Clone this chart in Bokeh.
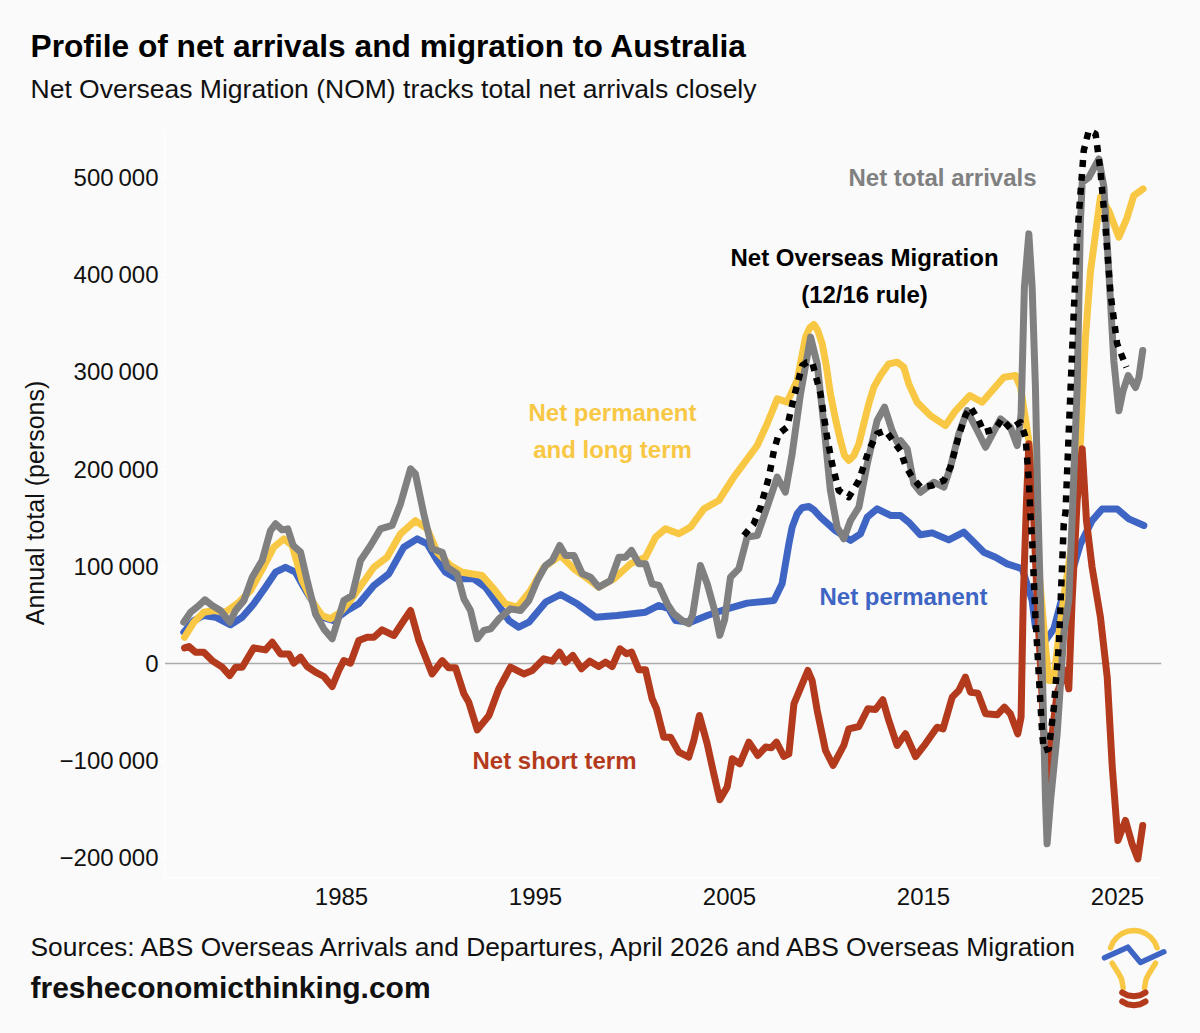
import math
from bokeh.plotting import figure
from bokeh.models import FixedTicker, Range1d
from bokeh.core.properties import value
from bokeh.embed import file_html
from bokeh.resources import INLINE

# --- data, thousands of persons ---
total_years = [1976.87,1977.22,1977.65,1977.96,1978.33,1978.76,1979.24,1979.54,1979.97,1980.40,1980.91,1981.34,1981.6,1981.94,1982.23,1982.51,1982.89,1983.23,1983.66,1984.09,1984.52,1984.86,1985.12,1985.55,1985.98,1986.5,1987.01,1987.61,1988.04,1988.56,1988.81,1989.24,1989.67,1990.19,1990.45,1990.96,1991.31,1991.65,1992.0,1992.34,1992.68,1993.11,1993.71,1994.23,1994.66,1995.09,1995.52,1995.86,1996.25,1996.55,1996.98,1997.41,1997.84,1998.26,1998.87,1999.3,1999.64,1999.95,2000.33,2000.67,2001.01,2001.36,2001.79,2002.13,2002.56,2002.9,2003.1,2003.5,2003.85,2004.28,2004.5,2004.75,2005.05,2005.48,2005.91,2006.43,2006.94,2007.46,2007.88,2008.23,2008.66,2009.18,2009.52,2009.86,2010.2,2010.55,2010.89,2011.24,2011.67,2012.1,2012.61,2012.99,2013.38,2013.64,2013.81,2014.16,2014.5,2014.85,2015.53,2016.05,2016.39,2016.82,2017.25,2017.77,2018.2,2018.97,2019.48,2019.83,2020.03,2020.2,2020.43,2020.6,2020.77,2020.89,2021.12,2021.29,2021.37,2021.55,2021.89,2022.23,2022.49,2022.66,2022.92,2023.09,2023.18,2023.52,2024.04,2024.3,2024.55,2024.81,2025.07,2025.29,2025.55,2025.93,2026.1,2026.3]
total_vals = [42.5,52.8,59.6,65.5,59.6,54.5,42.5,54.5,64.8,88.8,106,136.8,143.7,137.5,138.5,121.4,114.5,85.4,51,35.6,25.4,47.6,64.8,70,106,121.4,138.5,142,164.2,200.3,195,154,118,114.5,99,92.2,66.5,54.5,25.4,34,35.6,45.9,56.2,54.5,64.8,85.4,100.8,106,121.4,111.1,111.1,92.3,88.8,78.6,85.4,109.4,109.4,116.3,102.6,102.6,82,80.3,61.4,51.1,44.2,41,50,100.8,82,51,29,45,88.8,97.4,130,131.7,160.9,191.7,176.3,215.7,277.5,335.8,308.3,246.6,178,140.3,128.3,147.1,160.9,205.4,250,263.7,239.7,227.7,229.4,220.8,184.8,176.2,186.5,181.4,202,236.2,260.2,239.7,222.5,251.7,243.1,224.2,256.8,387,442,387,284,167.7,-3.8,-141,-185.5,-141,-72.4,30.5,64.8,147,284,455.7,495,500,519,490,404,311.7,260,280.8,296.3,284,294,322]

longterm_years = [1976.91,1977.39,1977.9,1978.42,1979.02,1979.71,1980.31,1980.97,1981.51,1982.03,1982.46,1982.97,1983.57,1984.0,1984.43,1984.95,1985.46,1986.07,1986.67,1987.35,1988.04,1988.81,1989.42,1989.93,1990.62,1991.22,1992.25,1992.85,1993.45,1994.06,1994.74,1995.43,1996.29,1996.98,1997.58,1998.26,1999.04,1999.9,2000.67,2001.19,2001.7,2002.39,2002.99,2003.68,2004.45,2005.22,2006.43,2006.94,2007.46,2007.97,2008.49,2008.92,2009.14,2009.35,2009.55,2009.78,2010.0,2010.2,2010.46,2010.72,2010.93,2011.15,2011.41,2011.67,2011.92,2012.18,2012.44,2012.78,2013.21,2013.64,2013.98,2014.24,2014.67,2015.36,2016.13,2016.65,2017.39,2018.02,2019.14,2019.74,2020.0,2020.43,2020.8,2021.29,2021.46,2021.72,2021.98,2022.23,2022.7,2023.09,2023.35,2023.61,2024.12,2024.55,2025.07,2025.5,2025.84,2026.32]
longterm_vals = [27,42.5,52.8,54.5,52.8,63,75,99,119.7,128.2,121.4,85.4,61.4,49.4,46,52.8,64.8,82,99,109.4,133.4,147,138.5,114.5,100.8,93.9,90.5,76.8,61.4,57.9,75,99,111.1,97.4,88.8,78.6,87,102.6,109.4,130,138.6,133.4,140.3,159.1,167.7,191.7,224.3,246.6,272.3,268.9,291.2,335.8,345.4,348.8,342.6,328.9,304.9,277.5,251.7,229.4,214,208.9,214,226,246.6,267.2,284.3,296.3,308.3,310,305,287.7,268.8,255,244.8,260,275.7,268.8,294.5,296.3,284.3,229.4,130,16.8,-17.5,-17.5,30.5,68,130,229.4,335.7,404,479.7,466,438.6,459,481.4,488.3]

permanent_years = [1976.87,1977.39,1977.9,1978.51,1979.28,1979.88,1980.48,1981.08,1981.6,1982.11,1982.63,1983.06,1983.57,1984.0,1984.6,1985.29,1985.89,1986.67,1987.44,1988.21,1988.9,1989.42,1989.93,1990.36,1990.96,1991.82,1992.42,1993.11,1993.63,1994.14,1994.66,1995.52,1996.29,1997.15,1998.09,1999.21,2000.67,2001.36,2001.87,2002.22,2002.99,2003.85,2004.88,2005.91,2007.29,2007.71,2008.06,2008.23,2008.49,2008.74,2009.09,2009.35,2009.69,2010.46,2011.24,2011.75,2012.1,2012.61,2013.3,2013.81,2014.24,2014.84,2015.45,2016.3,2017.08,2017.51,2018.11,2018.71,2019.31,2020.09,2020.6,2020.77,2021.29,2021.72,2022.06,2022.58,2023.09,2023.69,2024.21,2024.98,2025.58,2026.36]
permanent_vals = [32.2,44.2,49.4,47.6,39.8,47.6,61.4,78.5,93.9,99,93.9,78.5,61.4,47.6,44.2,54.5,61.4,80.2,92.2,119.7,128.2,123,106,93.9,87.1,87.1,78.5,59.6,44.2,37.3,42.5,63.1,71,61.4,47.7,49.4,52.8,59.7,56.3,44.2,42.5,49.4,56.3,62.1,64.8,82,123.1,140.3,154,160.2,161.5,158,150.6,136.8,126.6,133.4,150.6,159.1,152.3,152.3,145.4,132.4,134.4,127.2,135.1,126.5,114.5,109.4,102.5,97.4,64.8,37.4,23.7,35.7,61.4,88.8,123,147,159,159,148.8,142]

short_years = [1976.91,1977.13,1977.47,1977.9,1978.33,1978.85,1979.24,1979.54,1979.88,1980.48,1981.08,1981.43,1981.86,1982.29,1982.54,1982.89,1983.23,1983.66,1984.09,1984.52,1984.86,1985.12,1985.46,1985.89,1986.32,1986.67,1987.09,1987.7,1988.21,1988.56,1988.99,1989.67,1990.19,1990.53,1990.88,1991.31,1991.56,1992.0,1992.6,1993.11,1993.71,1994.4,1994.83,1995.43,1995.86,1996.24,1996.55,1996.92,1997.37,1997.8,1998.26,1998.61,1998.95,1999.35,1999.69,1999.95,2000.33,2000.67,2001.01,2001.24,2001.61,2001.96,2002.39,2002.9,2003.16,2003.45,2003.85,2004.19,2004.5,2004.88,2005.14,2005.53,2006.0,2006.46,2006.86,2007.15,2007.42,2007.8,2008.06,2008.32,2008.75,2009.04,2009.26,2009.52,2009.95,2010.34,2010.89,2011.15,2011.67,2012.13,2012.53,2012.9,2013.21,2013.64,2014.07,2014.59,2015.1,2015.7,2016.01,2016.48,2016.82,2017.16,2017.42,2017.8,2018.2,2018.8,2019.17,2019.48,2019.86,2020.03,2020.14,2020.31,2020.43,2020.69,2020.86,2021.12,2021.37,2021.63,2021.89,2022.32,2022.49,2022.66,2022.92,2023.18,2023.4,2023.69,2024.12,2024.47,2024.73,2025.02,2025.41,2025.75,2026.05,2026.3]
short_vals = [16.1,17.5,11.6,11.6,3,-3.8,-12.4,-3.8,-3.8,16.1,14,21.9,9.9,9.9,0.3,6.5,-3.1,-8.9,-13.4,-23.7,-7.2,3,0.3,23.6,27,27,34.6,28.8,44.2,54.5,23.6,-10.7,3,-4.5,-4.5,-31.2,-39.8,-68.3,-53.5,-26,-3.8,-10.7,-7.2,4.8,2.4,11.7,1.4,8.3,-5.4,2.4,-3.1,1.4,-3.1,15.1,10,11.7,-6.5,-6.5,-36.3,-46.6,-75.8,-75.8,-91.2,-96.3,-79.2,-53.5,-82.6,-113.5,-140.2,-127.2,-98,-103.2,-80.9,-94.6,-86,-86.7,-80.9,-95.6,-92.9,-41.5,-20.9,-7.2,-17.5,-48.3,-89.5,-104.9,-84.3,-67.2,-64.8,-46.6,-47.3,-37.3,-58.6,-84.3,-72.3,-95.7,-82.6,-65.5,-67.2,-34.6,-27.8,-14,-29.5,-30.5,-51.8,-52.8,-44.9,-51.8,-72.4,-55.2,64.8,167.7,226,147,64.8,-38,-141,-72,-30,-7,-26,64.8,167.7,220.8,147,99,47.7,-14,-106.6,-182,-161.5,-185.5,-201,-166.7]

nom_years = [2005.74,2006.25,2006.6,2007.03,2007.29,2007.54,2007.97,2008.32,2008.75,2009.0,2009.26,2009.69,2010.03,2010.29,2010.63,2011.15,2011.67,2012.18,2012.61,2013.04,2013.81,2014.07,2014.41,2014.85,2015.45,2016.05,2016.39,2016.82,2017.16,2017.42,2017.85,2018.11,2018.71,2019.05,2019.48,2020.0,2020.26,2020.43,2020.52,2020.6,2020.77,2020.94,2021.12,2021.2,2021.46,2021.72,2021.98,2022.23,2022.32,2022.49,2022.75,2022.92,2023.26,2023.52,2023.87,2024.12,2024.38,2024.64,2024.98,2025.46]
nom_vals = [131.7,143.7,160.9,191.7,219.2,236.3,243.2,274,306.6,310,310,277.5,232.9,205.4,178,171.1,188.3,219.2,236.3,239.7,219,203.7,191.7,181.4,183.1,188.2,202,234.5,255,263.7,250,238,241.4,251.7,241.4,248.3,232.8,188.2,150.5,126.5,47.7,-10.6,-72.4,-89.5,-87.8,-45,20.2,143.7,155.6,239.7,363.1,438.6,527.7,548.3,544.9,507.2,448.9,380.3,328.9,304.8]

y_ticks = [-200000,-100000,0,100000,200000,300000,400000,500000]
y_labels = ["\u2212200\u2009000","\u2212100\u2009000","0","100\u2009000","200\u2009000","300\u2009000","400\u2009000","500\u2009000"]
x_ticks = [1985,1995,2005,2015,2025]

BG = "#FAFAFA"
YELLOW = "#F8C845"
BLUE = "#3E64C4"
RED = "#B43A1D"
GREY = "#808080"
FONT = "Liberation Sans"

# page pixel -> data helpers (frame spans px 164..1161, py 128..877; figure sits at page origin)
PXL, PXR, PYT, PYB = 164, 1161, 128, 877
W, H = 1184, 1017
x0 = 1985 + (PXL - 341) / 19.4
x1 = 1985 + (PXR - 341) / 19.4
y1 = (663 - PYT) / 0.972 * 1000
y0 = (663 - PYB) / 0.972 * 1000
def xd(px): return 1985 + (px - 341) / 19.4
def yd(py): return (663 - py) / 0.972 * 1000

p = figure(width=W, height=H, output_backend="svg", toolbar_location=None,
           x_range=Range1d(x0, x1), y_range=Range1d(y0, y1),
           min_border_left=PXL, min_border_right=W - PXR,
           min_border_top=PYT, min_border_bottom=H - PYB,
           background_fill_color=BG, border_fill_color=BG, outline_line_color=None)
p.grid.visible = False

ax = p.xaxis[0]
ax.ticker = FixedTicker(ticks=x_ticks)
ax.axis_line_color = "#FFFFFF"; ax.major_tick_line_color = "#FFFFFF"
ax.major_tick_in = 0; ax.major_tick_out = 5; ax.minor_tick_line_color = None
ax.major_label_text_font = FONT; ax.major_label_text_font_size = "24px"
ax.major_label_text_color = "#111111"; ax.major_label_standoff = 5

ay = p.yaxis[0]
ay.ticker = FixedTicker(ticks=y_ticks)
ay.major_label_overrides = dict(zip(y_ticks, y_labels))
ay.axis_line_color = "#FFFFFF"; ay.major_tick_line_color = "#FFFFFF"
ay.major_tick_in = 0; ay.major_tick_out = 5; ay.minor_tick_line_color = None
ay.major_label_text_font = FONT; ay.major_label_text_font_size = "24px"
ay.major_label_text_color = "#111111"; ay.major_label_standoff = 1
ay.axis_label = "Annual total (persons)"
ay.axis_label_text_font = FONT; ay.axis_label_text_font_size = "25px"
ay.axis_label_text_font_style = "normal"; ay.axis_label_text_color = "#111111"
ay.axis_label_standoff = 8

p.line([x0, x1], [0, 0], line_color="#ABABAB", line_width=1.5)

def k(vals):
    return [v * 1000 for v in vals]

for xs, ys, c in [(permanent_years, permanent_vals, BLUE),
                  (longterm_years, longterm_vals, YELLOW),
                  (short_years, short_vals, RED),
                  (total_years, total_vals, GREY)]:
    p.line(xs, k(ys), line_color=c, line_width=7, line_join="round", line_cap="round")
p.line(nom_years, k(nom_vals), line_color="#000000", line_width=6.5, line_dash="7 7", line_join="round")

def txt(s, px, py, size, color="#000000", bold=False, align="left"):
    p.text([xd(px)], [yd(py)], text=[s], text_font=value(FONT), text_font_size=f"{size}px",
           text_color=color, text_font_style="bold" if bold else "normal",
           text_align=align, text_baseline="alphabetic", level="overlay")

txt("Profile of net arrivals and migration to Australia", 30, 45, 31.7, "#000000", True)
txt("Net Overseas Migration (NOM) tracks total net arrivals closely", 30, 88, 26.5, "#111111")
txt("Sources: ABS Overseas Arrivals and Departures, April 2026 and ABS Overseas Migration", 30, 946, 26.4, "#111111")
txt("fresheconomicthinking.com", 30, 987, 30, "#111111", True)

txt("Net total arrivals", 942, 177, 24, GREY, True, "center")
txt("Net Overseas Migration", 864, 257, 24, "#000000", True, "center")
txt("(12/16 rule)", 864, 294, 24, "#000000", True, "center")
txt("Net permanent", 612, 412, 24, YELLOW, True, "center")
txt("and long term", 612, 449, 24, YELLOW, True, "center")
txt("Net permanent", 903, 596, 24, BLUE, True, "center")
txt("Net short term", 554, 760, 24, RED, True, "center")

# logo: light bulb drawn outside the frame, unclipped levels
def logo(pts, color, width):
    p.line([xd(1060 + a / 3) for a, b in pts], [yd(910 + b / 3) for a, b in pts],
           line_color=color, line_width=width, line_cap="round", line_join="round", level="overlay")

arc = [(220 + 72 * math.cos(t / 12 * math.pi), 130 - 70 * math.sin(t / 12 * math.pi)) for t in range(1, 12)]
logo(arc, YELLOW, 5.5)
logo([(155, 158), (172, 185), (183, 205), (188, 232)], YELLOW, 5.5)
logo([(285, 158), (268, 185), (257, 205), (252, 232)], YELLOW, 5.5)
logo([(132, 142), (202, 110), (240, 156), (310, 124)], BLUE, 5.5)
logo([(185, 246), (200, 254), (220, 257), (240, 254), (255, 246)], RED, 6)
logo([(185, 273), (200, 281), (220, 284), (240, 281), (255, 273)], RED, 6)

html = file_html(p, INLINE)
html = html.replace("<head>", "<head><style>html,body{background:#FAFAFA}</style>", 1)
open("out.html", "w").write(html)
